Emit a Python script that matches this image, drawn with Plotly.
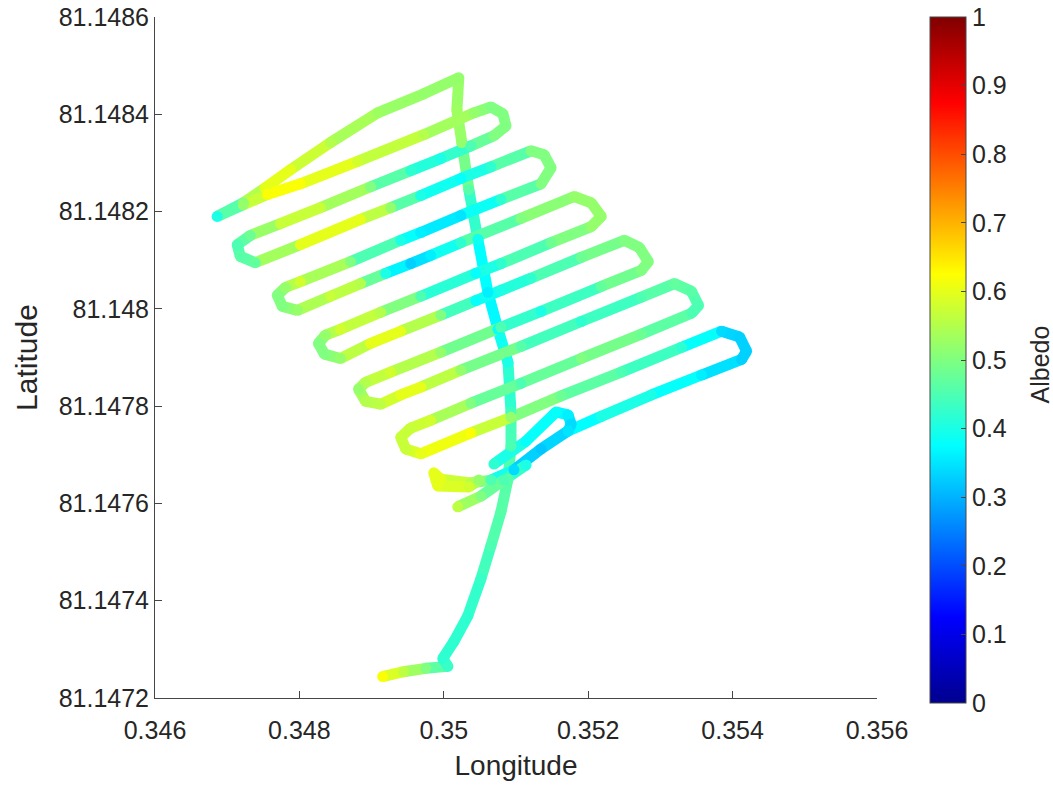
import plotly.graph_objects as go
from plotly.colors import sample_colorscale

# ---- data ----
lon_main = [0.349153, 0.349444, 0.349750, 0.350056, 0.349986, 0.350139, 0.350333, 0.350514,
            0.350653, 0.350792, 0.350889, 0.350931, 0.350931, 0.350889, 0.350750, 0.350611,
            0.350472, 0.350347, 0.350250, 0.350181, 0.350208, 0.349722, 0.349083, 0.348431,
            0.347875, 0.347528, 0.347222, 0.346861, 0.347222, 0.347556, 0.348014, 0.348806,
            0.349722, 0.350417, 0.350653, 0.350819, 0.350861, 0.350694, 0.350375, 0.349958,
            0.349542, 0.348986, 0.348292, 0.347736, 0.347319, 0.347139, 0.347181, 0.347389,
            0.348014, 0.348847, 0.349264, 0.349681, 0.350236, 0.350653, 0.351208, 0.351389,
            0.351486, 0.351347, 0.350792, 0.350236, 0.349681, 0.349403, 0.348708, 0.348014,
            0.347806, 0.347694, 0.347764, 0.347972, 0.348431, 0.348847, 0.349194, 0.349542,
            0.349819, 0.350236, 0.351069, 0.351806, 0.352042, 0.352181, 0.352042, 0.351486,
            0.350792, 0.350444, 0.349681, 0.349125, 0.348569, 0.348361, 0.348264, 0.348347,
            0.348569, 0.348986, 0.349403, 0.349958, 0.350444, 0.350792, 0.351208, 0.351903,
            0.352500, 0.352708, 0.352833, 0.352736, 0.352181, 0.351347, 0.350792, 0.349958,
            0.349264, 0.348917, 0.348819, 0.348917, 0.349125, 0.349403, 0.349681, 0.350236,
            0.351069, 0.351903, 0.352736, 0.353194, 0.353431, 0.353528, 0.353431, 0.352736,
            0.351903, 0.351069, 0.350375, 0.349819, 0.349542, 0.349403, 0.349472, 0.349681,
            0.350375, 0.350931, 0.351625, 0.352458, 0.353292, 0.353847, 0.354097, 0.354194,
            0.354125, 0.353569, 0.352875, 0.352181, 0.351722, 0.351347, 0.350972, 0.350653,
            0.350375, 0.349958, 0.349861, 0.349917, 0.350347, 0.350486]
lat_main = [81.147244, 81.147254, 81.147261, 81.147265, 81.147281, 81.147316, 81.147369, 81.147445,
            81.147513, 81.147583, 81.147650, 81.147718, 81.147788, 81.147890, 81.147958, 81.148034,
            81.148143, 81.148245, 81.148342, 81.148409, 81.148475, 81.148442, 81.148403, 81.148342,
            81.148286, 81.148249, 81.148218, 81.148190, 81.148214, 81.148235, 81.148257, 81.148303,
            81.148358, 81.148403, 81.148415, 81.148401, 81.148376, 81.148356, 81.148335, 81.148309,
            81.148284, 81.148251, 81.148208, 81.148175, 81.148151, 81.148132, 81.148108, 81.148095,
            81.148132, 81.148184, 81.148208, 81.148233, 81.148268, 81.148292, 81.148325, 81.148317,
            81.148290, 81.148257, 81.148225, 81.148192, 81.148157, 81.148141, 81.148097, 81.148056,
            81.148044, 81.148028, 81.148005, 81.147997, 81.148026, 81.148052, 81.148073, 81.148093,
            81.148110, 81.148136, 81.148186, 81.148231, 81.148218, 81.148190, 81.148169, 81.148136,
            81.148093, 81.148073, 81.148026, 81.147993, 81.147958, 81.147946, 81.147929, 81.147907,
            81.147898, 81.147929, 81.147954, 81.147987, 81.148017, 81.148038, 81.148063, 81.148106,
            81.148141, 81.148126, 81.148097, 81.148079, 81.148046, 81.147995, 81.147962, 81.147911,
            81.147870, 81.147849, 81.147835, 81.147810, 81.147804, 81.147823, 81.147839, 81.147874,
            81.147923, 81.147974, 81.148024, 81.148052, 81.148036, 81.148007, 81.147991, 81.147948,
            81.147898, 81.147847, 81.147806, 81.147771, 81.147755, 81.147736, 81.147712, 81.147702,
            81.147745, 81.147777, 81.147821, 81.147870, 81.147921, 81.147954, 81.147942, 81.147913,
            81.147896, 81.147864, 81.147823, 81.147779, 81.147749, 81.147712, 81.147669, 81.147648,
            81.147642, 81.147650, 81.147663, 81.147636, 81.147634, 81.147648]
albedo_main = [0.62, 0.56, 0.50, 0.43, 0.42, 0.42, 0.42, 0.43,
               0.45, 0.46, 0.46, 0.45, 0.44, 0.40, 0.38, 0.36,
               0.39, 0.46, 0.52, 0.53, 0.52, 0.52, 0.53, 0.55,
               0.60, 0.60, 0.50, 0.40, 0.52, 0.62, 0.62, 0.58,
               0.55, 0.52, 0.50, 0.50, 0.50, 0.50, 0.45, 0.40,
               0.42, 0.50, 0.57, 0.57, 0.48, 0.45, 0.46, 0.47,
               0.60, 0.60, 0.52, 0.40, 0.38, 0.42, 0.50, 0.50,
               0.50, 0.50, 0.42, 0.35, 0.36, 0.40, 0.50, 0.58,
               0.52, 0.50, 0.50, 0.52, 0.57, 0.55, 0.40, 0.33,
               0.36, 0.42, 0.50, 0.52, 0.52, 0.52, 0.52, 0.48,
               0.42, 0.38, 0.45, 0.55, 0.58, 0.52, 0.50, 0.50,
               0.52, 0.60, 0.60, 0.50, 0.38, 0.40, 0.42, 0.48,
               0.50, 0.50, 0.50, 0.50, 0.47, 0.40, 0.45, 0.52,
               0.58, 0.55, 0.52, 0.55, 0.56, 0.60, 0.60, 0.52,
               0.46, 0.42, 0.45, 0.47, 0.46, 0.45, 0.45, 0.48,
               0.50, 0.45, 0.50, 0.58, 0.57, 0.57, 0.57, 0.60,
               0.62, 0.52, 0.48, 0.45, 0.42, 0.34, 0.33, 0.33,
               0.33, 0.36, 0.40, 0.40, 0.35, 0.32, 0.34, 0.45,
               0.55, 0.60, 0.60, 0.60, 0.58, 0.52]

lon_exit = [0.350194, 0.350514, 0.350833, 0.351139]
lat_exit = [81.147593, 81.147615, 81.147648, 81.147679]
albedo_exit = [0.56, 0.50, 0.45, 0.40]

lon_loop = [0.350694, 0.351139, 0.351556, 0.351722, 0.351764, 0.351722]
lat_loop = [81.147681, 81.147728, 81.147788, 81.147782, 81.147763, 81.147749]
albedo_loop = [0.42, 0.38, 0.38, 0.36, 0.34, 0.35]

x_ticks = [0.346, 0.348, 0.350, 0.352, 0.354, 0.356]
x_ticktext = ["0.346", "0.348", "0.35", "0.352", "0.354", "0.356"]
y_ticks = [81.1472, 81.1474, 81.1476, 81.1478, 81.1480, 81.1482, 81.1484, 81.1486]
y_ticktext = ["81.1472", "81.1474", "81.1476", "81.1478", "81.148", "81.1482", "81.1484", "81.1486"]
cb_ticks = [0, 0.1, 0.2, 0.3, 0.4, 0.5, 0.6, 0.7, 0.8, 0.9, 1]
cb_ticktext = ["0", "0.1", "0.2", "0.3", "0.4", "0.5", "0.6", "0.7", "0.8", "0.9", "1"]

# ---- style ----
JET = [[0.0, "rgb(0,0,143)"], [0.125, "rgb(0,0,255)"], [0.375, "rgb(0,255,255)"],
       [0.625, "rgb(255,255,0)"], [0.875, "rgb(255,0,0)"], [1.0, "rgb(128,0,0)"]]
LW = 11
FONT = "Liberation Sans, Arial, Helvetica, sans-serif"
TXT = "rgb(38,38,38)"
AX = "rgb(70,70,70)"
TICK_SIZE = 25

fig = go.Figure()

tracks = [(lon_main, lat_main, albedo_main),
          (lon_exit, lat_exit, albedo_exit),
          (lon_loop, lat_loop, albedo_loop)]

for lons, lats, albs in tracks:
    for i in range(len(lons) - 1):
        v = (albs[i] + albs[i + 1]) / 2.0
        c = sample_colorscale(JET, [v])[0]
        fig.add_trace(go.Scatter(x=[lons[i], lons[i + 1]], y=[lats[i], lats[i + 1]],
                                 mode="lines", line=dict(color=c, width=LW),
                                 hoverinfo="skip", showlegend=False))

all_lon = lon_main + lon_exit + lon_loop
all_lat = lat_main + lat_exit + lat_loop
all_alb = albedo_main + albedo_exit + albedo_loop

fig.add_trace(go.Scatter(
    x=all_lon, y=all_lat, mode="markers", showlegend=False,
    marker=dict(size=LW, color=all_alb, colorscale=JET, cmin=0, cmax=1,
                line=dict(width=0),
                colorbar=dict(
                    x=1.073, xanchor="left", xref="paper", xpad=0,
                    y=1, yanchor="top", ypad=0, lenmode="pixels", len=686,
                    thickness=36, outlinewidth=1, outlinecolor=AX,
                    tickmode="array", tickvals=cb_ticks, ticktext=cb_ticktext,
                    ticks="inside", ticklen=5, tickcolor=AX,
                    tickfont=dict(family=FONT, size=TICK_SIZE, color=TXT),
                ))))

# colorbar label
fig.add_annotation(text="Albedo", textangle=-90, xref="paper", yref="paper",
                   x=1.226, y=0.49, xanchor="center", yanchor="middle", showarrow=False,
                   font=dict(family=FONT, size=25, color=TXT))

fig.update_layout(
    width=1053, height=785,
    margin=dict(l=155, r=176, t=17, b=87, autoexpand=False),
    paper_bgcolor="white", plot_bgcolor="white",
    font=dict(family=FONT, color=TXT),
    xaxis=dict(range=[0.346, 0.356], tickmode="array", tickvals=x_ticks, ticktext=x_ticktext,
               showline=True, linecolor=AX, linewidth=1, mirror=False,
               ticks="inside", ticklen=7, tickcolor=AX, showgrid=False, zeroline=False,
               ticklabelstandoff=10,
               tickfont=dict(family=FONT, size=TICK_SIZE, color=TXT),
               title=dict(text="Longitude", font=dict(family=FONT, size=28, color=TXT), standoff=12)),
    yaxis=dict(range=[81.1472, 81.1486], tickmode="array", tickvals=y_ticks, ticktext=y_ticktext,
               showline=True, linecolor=AX, linewidth=1, mirror=False,
               ticks="inside", ticklen=7, tickcolor=AX, showgrid=False, zeroline=False,
               tickfont=dict(family=FONT, size=TICK_SIZE, color=TXT),
               title=dict(text="Latitude", font=dict(family=FONT, size=30, color=TXT), standoff=12)),
)

fig.write_html("out.html")
